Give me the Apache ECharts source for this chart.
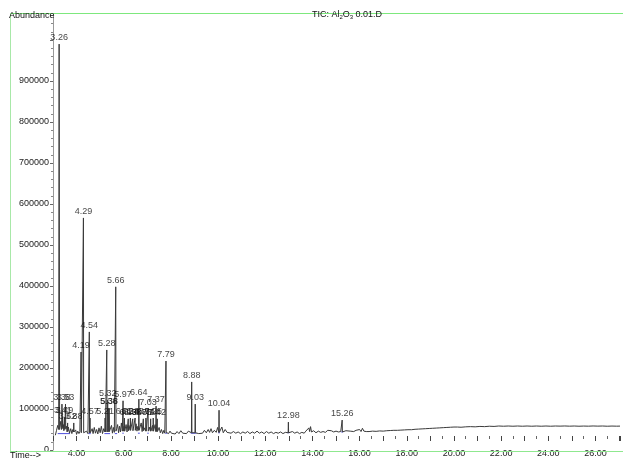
<!DOCTYPE html>
<html>
<head>
<meta charset="utf-8">
<script src="https://cdn.jsdelivr.net/npm/echarts@6/dist/echarts.min.js"></script>
<style>
  html, body { margin: 0; padding: 0; background: #fff; }
  #chart { width: 623px; height: 459px; }
</style>
</head>
<body>
<div id="chart"></div>
<script>
// Total ion chromatogram: retention time (min) vs abundance.
// Baseline / noise trace between the labelled peaks.
const traceTime = [
  3.10, 3.15, 3.20, 3.30, 3.33, 3.36, 3.44, 3.46, 3.57, 3.60, 3.65, 3.70, 3.75, 3.80, 3.84, 3.92, 3.96,
  4.00, 4.05, 4.10, 4.14, 4.24, 4.34, 4.38, 4.42, 4.48, 4.62, 4.66, 4.70, 4.75, 4.80, 4.85, 4.90, 4.95,
  5.00, 5.05, 5.10, 5.15, 5.25, 5.44, 5.48, 5.52, 5.56, 5.60, 5.70, 5.74, 5.78, 5.82, 5.86, 5.90, 5.94,
  6.01, 6.06, 6.10, 6.14, 6.22, 6.32, 6.42, 6.52, 6.56, 6.60, 6.70, 6.74, 6.78, 6.88, 6.98,
  7.08, 7.18, 7.22, 7.30, 7.33, 7.46, 7.50, 7.55, 7.60, 7.65, 7.70, 7.74, 7.84, 7.90, 7.96,
  8.02, 8.10, 8.18, 8.26, 8.34, 8.42, 8.50, 8.58, 8.66, 8.74, 8.80, 8.95,
  9.10, 9.18, 9.26, 9.34, 9.42, 9.50, 9.58, 9.64, 9.70, 9.76, 9.84, 9.92, 9.98,
  10.10, 10.16, 10.22, 10.30, 10.38, 10.46, 10.55, 10.65, 10.75, 10.85, 10.95,
  11.05, 11.15, 11.25, 11.35, 11.45, 11.55, 11.65, 11.75, 11.85, 11.95,
  12.05, 12.15, 12.25, 12.35, 12.45, 12.55, 12.65, 12.75, 12.85, 12.93,
  13.05, 13.15, 13.25, 13.35, 13.45, 13.55, 13.65, 13.72, 13.80, 13.85, 13.88, 13.92, 13.96,
  14.05, 14.15, 14.25, 14.35, 14.45, 14.55, 14.65, 14.72, 14.80, 14.90,
  15.00, 15.10, 15.20, 15.32, 15.42, 15.50, 15.60, 15.68, 15.75, 15.85, 15.92,
  16.00, 16.06, 16.12, 16.18, 16.28, 16.40, 16.55, 16.70, 16.85,
  17.00, 17.15, 17.30, 17.45, 17.60, 17.75, 17.90,
  18.05, 18.20, 18.35, 18.50, 18.65, 18.80, 18.95,
  19.10, 19.25, 19.40, 19.55, 19.70, 19.85,
  20.00, 20.15, 20.30, 20.50, 20.70, 20.90, 21.10, 21.30, 21.50, 21.70, 21.90,
  22.10, 22.30, 22.50, 22.70, 22.90, 23.10, 23.30, 23.50, 23.70, 23.90,
  24.10, 24.30, 24.50, 24.70, 24.90, 25.10, 25.30, 25.50, 25.70, 25.90,
  26.10, 26.30, 26.50, 26.70, 26.90, 27.04
];
const traceAbund = [
  36000, 48000, 60000, 52000, 70000, 50000, 62000, 47000, 58000, 44000, 56000, 41000, 52000, 40000, 50000, 42000, 49000,
  38000, 46000, 40000, 45000, 41000, 44000, 39000, 46000, 40000, 43000, 52000, 40000, 55000, 41000, 50000, 39000, 54000,
  42000, 58000, 40000, 52000, 44000, 48000, 60000, 41000, 55000, 43000, 52000, 62000, 42000, 58000, 44000, 66000, 46000,
  58000, 45000, 62000, 44000, 60000, 52000, 48000, 64000, 46000, 58000, 50000, 66000, 45000, 54000, 47000,
  56000, 44000, 60000, 46000, 62000, 45000, 55000, 42000, 50000, 40000, 48000, 41000, 44000, 40000, 46000,
  41000, 44000, 39000, 45000, 40000, 47000, 41000, 44000, 40000, 46000, 42000, 40000,
  45000, 40000, 44000, 41000, 48000, 42000, 50000, 43000, 52000, 42000, 48000, 43000, 55000,
  44000, 56000, 42000, 50000, 43000, 47000, 41000, 45000, 41000, 44000, 40000,
  44000, 41000, 45000, 40000, 44000, 41000, 46000, 41000, 44000, 40000,
  45000, 41000, 44000, 40000, 43000, 41000, 44000, 40000, 43000, 41000,
  42000, 45000, 41000, 44000, 40000, 43000, 41000, 46000, 44000, 54000, 45000, 57000, 44000,
  47000, 42000, 46000, 43000, 45000, 43000, 48000, 44000, 47000, 44000,
  46000, 44000, 45000, 45000, 47000, 44000, 46000, 50000, 45000, 48000, 46000,
  50000, 45000, 53000, 46000, 45000, 45000, 46000, 45500, 46500,
  46000, 47000, 47500, 48000, 48000, 48500, 49000,
  49500, 49500, 50500, 51000, 51500, 52000, 52500,
  53000, 53500, 54000, 54500, 55000, 55500,
  56000, 56000, 55500, 56500, 57000, 56500, 57500, 57000, 58000, 57500, 58500,
  58000, 58500, 58000, 58500, 58000, 58500, 58000, 58500, 58000, 58500,
  58000, 58500, 58200, 58600, 58100, 58500, 58000, 58400, 58100, 58600,
  58200, 58500, 58000, 58400, 58100, 58300
];

// Labelled peaks: retention time, apex abundance, abundance at the foot.
const peakTime = [
  3.26, 3.38, 3.41, 3.49, 3.53, 3.62, 3.88, 4.19, 4.29, 4.54, 4.57,
  5.21, 5.28, 5.32, 5.36, 5.38, 5.66, 5.97, 6.03, 6.19, 6.28, 6.38, 6.48,
  6.64, 6.83, 6.94, 7.03, 7.14, 7.25, 7.37, 7.42, 7.79, 8.88, 9.03, 10.04, 12.98, 15.26
];
const peakTop = [
  990000, 112000, 80000, 80000, 112000, 66000, 66000, 239000, 566000, 288000, 78000,
  78000, 244000, 122000, 102000, 102000, 398000, 120000, 78000, 76000, 78000, 76000, 78000,
  124000, 76000, 78000, 100000, 76000, 78000, 107000, 76000, 217000, 166000, 112000, 97000, 68000, 73000
];
const peakFoot = [
  50000, 55000, 52000, 50000, 52000, 46000, 44000, 42000, 42000, 42000, 42000,
  44000, 44000, 44000, 45000, 45000, 46000, 46000, 46000, 47000, 48000, 47000, 48000,
  48000, 47000, 46000, 46000, 46000, 46000, 45000, 45000, 43000, 42000, 42000, 43000, 42000, 44000
];

// Integration baselines (blue), start time, end time, level.
const blueFrom  = [3.20, 4.50, 5.18, 5.62, 5.94, 6.60, 7.00, 7.76, 8.84, 10.00, 12.94, 15.22];
const blueTo    = [3.72, 4.60, 5.42, 5.72, 6.00, 6.68, 7.06, 7.84, 9.08, 10.08, 13.02, 15.30];
const blueLevel = [40000, 40000, 40000, 40000, 41000, 41000, 41000, 41000, 41000, 42000, 42000, 44000];

const abundanceTicks = [0, 100000, 200000, 300000, 400000, 500000, 600000, 700000, 800000, 900000];

// Assemble the trace: noise points plus a narrow spike for each labelled peak.
const trace = traceTime.map((t, i) => [t, traceAbund[i]]);
peakTime.forEach((t, i) => {
  const w = i === 0 ? 0.02 : 0.01;
  trace.push([t - w, peakFoot[i]], [t, peakTop[i]], [t + w, peakFoot[i]]);
});
trace.sort((a, b) => a[0] - b[0]);

const series = [{
  type: 'line',
  data: trace,
  showSymbol: false,
  symbol: 'none',
  animation: false,
  lineStyle: { color: '#3a3a3a', width: 1 },
  z: 3
}];

blueFrom.forEach((t, i) => {
  series.push({
    type: 'line',
    data: [[t, blueLevel[i]], [blueTo[i], blueLevel[i]]],
    symbol: 'none',
    animation: false,
    lineStyle: { color: '#5050dd', width: 1 },
    z: 2
  });
});

series.push({
  type: 'scatter',
  data: peakTime.map((t, i) => [t, peakTop[i]]),
  symbolSize: 0,
  animation: false,
  label: {
    show: true,
    position: 'top',
    distance: 2,
    formatter: p => p.value[0].toFixed(2),
    color: '#111',
    fontSize: 9,
    fontFamily: 'Liberation Sans, Arial, sans-serif'
  },
  z: 4
});

const chart = echarts.init(document.getElementById('chart'), null, { renderer: 'canvas' });
chart.setOption({
  animation: false,
  backgroundColor: '#fff',
  grid: { left: 53, right: -1, top: 15, bottom: 9, containLabel: false },
  xAxis: {
    type: 'value',
    min: 3,
    max: 27.04,
    interval: 1,
    offset: -14,
    axisLine: { show: false },
    axisTick: { show: true, length: 5, lineStyle: { color: '#444' } },
    minorTick: { show: true, splitNumber: 2, length: 3, lineStyle: { color: '#666' } },
    splitLine: { show: false },
    axisLabel: {
      margin: 13,
      fontSize: 9,
      color: '#222',
      fontFamily: 'Liberation Sans, Arial, sans-serif',
      formatter: v => (Math.round(v) % 2 === 0 ? v.toFixed(2) : '')
    }
  },
  yAxis: {
    type: 'value',
    min: 0,
    max: 1061000,
    interval: 100000,
    axisLine: { show: true, lineStyle: { color: '#999' } },
    axisTick: { show: true, length: 3, lineStyle: { color: '#666' } },
    minorTick: { show: true, splitNumber: 5, length: 2, lineStyle: { color: '#888' } },
    splitLine: { show: false },
    axisLabel: {
      margin: 4,
      fontSize: 9,
      color: '#222',
      fontFamily: 'Liberation Sans, Arial, sans-serif',
      formatter: v => (abundanceTicks.includes(v) ? String(v) : '')
    }
  },
  graphic: [
    { type: 'line', shape: { x1: 10, y1: 13.5, x2: 623, y2: 13.5 }, style: { stroke: '#7de87d', lineWidth: 1 }, z: 10 },
    { type: 'line', shape: { x1: 10.5, y1: 13, x2: 10.5, y2: 451 }, style: { stroke: '#a8e8a8', lineWidth: 1 }, z: 10 },
    { type: 'line', shape: { x1: 10, y1: 451.5, x2: 623, y2: 451.5 }, style: { stroke: '#8fe88f', lineWidth: 1 }, z: 10 },
    {
      type: 'text', left: 9, top: 11, z: 11,
      style: { text: 'Abundance', fontSize: 9, fill: '#111', fontFamily: 'Liberation Sans, Arial, sans-serif' }
    },
    {
      type: 'text', left: 10, top: 451, z: 11,
      style: { text: 'Time-->', fontSize: 9, fill: '#111', fontFamily: 'Liberation Sans, Arial, sans-serif' }
    },
    {
      type: 'text', x: 347, y: 15, z: 11,
      style: {
        text: 'TIC: Al{s|2}O{s|3} 0.01.D',
        align: 'center', verticalAlign: 'middle',
        fontSize: 9, fill: '#111', fontFamily: 'Liberation Sans, Arial, sans-serif',
        rich: { s: { fontSize: 6, padding: [4, 0, 0, 0], fill: '#111' } }
      }
    }
  ],
  series: series
});
</script>
</body>
</html>
